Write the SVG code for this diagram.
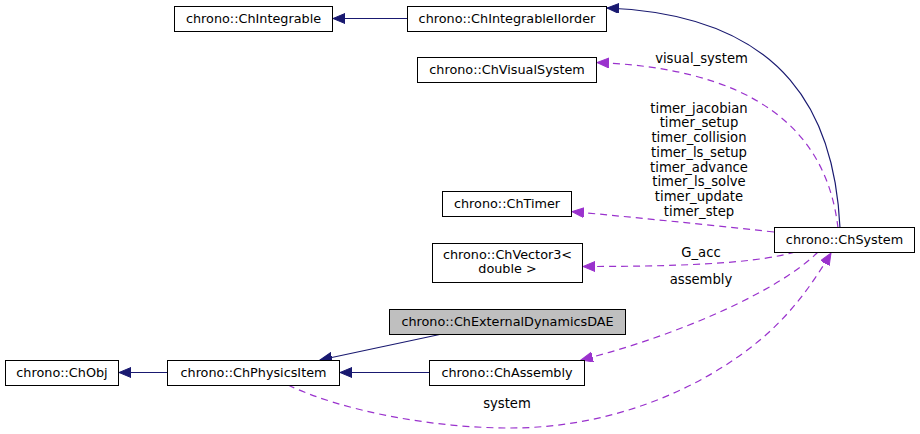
<svg xmlns="http://www.w3.org/2000/svg" width="920" height="434" viewBox="0 0 920 434">
<style>
  .box{fill:#fff;stroke:#000;stroke-width:1}
  .hl{fill:#bfbfbf;stroke:#000;stroke-width:1}
  text{font-family:"DejaVu Sans","Liberation Sans",sans-serif;font-size:12.8px;fill:#000;text-anchor:middle}
  #labels text{font-size:13.2px}
  .inh{fill:none;stroke:#191970;stroke-width:1.2}
  .use{fill:none;stroke:#9a32cd;stroke-width:1.2;stroke-dasharray:7,5}
</style>
<defs>
  <marker id="an" markerUnits="userSpaceOnUse" markerWidth="14" markerHeight="12" refX="12" refY="5" orient="auto">
    <polygon points="0,0 12,5 0,10" fill="#191970" stroke="#191970"/>
  </marker>
  <marker id="ap" markerUnits="userSpaceOnUse" markerWidth="14" markerHeight="12" refX="12" refY="5" orient="auto">
    <polygon points="0,0 12,5 0,10" fill="#9a32cd" stroke="#9a32cd"/>
  </marker>
</defs>
<g id="edges">
  <path class="inh" d="M407,18.5 L333,18.5" marker-end="url(#an)"/>
  <path class="inh" d="M840,228 C835,120 790,15 607,8" marker-end="url(#an)"/>
  <path class="use" d="M838,228 C830,160 790,70 597,62.5" marker-end="url(#ap)"/>
  <path class="use" d="M774,232 C700,224 640,218 572,211.5" marker-end="url(#ap)"/>
  <path class="use" d="M795,252 C760,262 700,266.5 583,266.5" marker-end="url(#ap)"/>
  <path class="use" d="M818,252 C780,290 680,335 581,360" marker-end="url(#ap)"/>
  <path class="use" d="M288,385 C340,410 430,428 510,428 C610,428 700,390 760,340 C790,315 812,285 831,253" marker-end="url(#ap)"/>
  <path class="inh" d="M442,334 L320,360" marker-end="url(#an)"/>
  <path class="inh" d="M429,372.5 L340,372.5" marker-end="url(#an)"/>
  <path class="inh" d="M167,372.5 L119,372.5" marker-end="url(#an)"/>
</g>
<g id="labels">
  <text x="701.5" y="63">visual_system</text>
  <text x="699" y="112.5">timer_jacobian</text>
  <text x="699" y="127.3">timer_setup</text>
  <text x="699" y="142">timer_collision</text>
  <text x="699" y="156.8">timer_ls_setup</text>
  <text x="699" y="171.6">timer_advance</text>
  <text x="699" y="186.3">timer_ls_solve</text>
  <text x="699" y="201.1">timer_update</text>
  <text x="699" y="215.9">timer_step</text>
  <text x="701" y="257">G_acc</text>
  <text x="701" y="284">assembly</text>
  <text x="507" y="407.5">system</text>
</g>
<g id="n_ChIntegrable"><rect class="box" x="174.5" y="6.5" width="158" height="25"/><text x="253.5" y="23">chrono::ChIntegrable</text></g>
<g id="n_ChIntegrableIIorder"><rect class="box" x="407.5" y="6.5" width="199" height="25"/><text x="507" y="23">chrono::ChIntegrableIIorder</text></g>
<g id="n_ChVisualSystem"><rect class="box" x="417.5" y="57.5" width="179" height="25"/><text x="507" y="74">chrono::ChVisualSystem</text></g>
<g id="n_ChTimer"><rect class="box" x="442.5" y="191.5" width="129" height="25"/><text x="507" y="208">chrono::ChTimer</text></g>
<g id="n_ChSystem"><rect class="box" x="774.5" y="227.5" width="140" height="25"/><text x="844.5" y="244">chrono::ChSystem</text></g>
<g id="n_ChVector3"><rect class="box" x="432.5" y="243.5" width="150" height="39"/><text x="507.5" y="259">chrono::ChVector3&lt;</text><text x="507.5" y="273">double &gt;</text></g>
<g id="n_ChExternalDynamicsDAE"><rect class="hl" x="389.5" y="309.5" width="236" height="25"/><text x="507.5" y="326">chrono::ChExternalDynamicsDAE</text></g>
<g id="n_ChObj"><rect class="box" x="5.5" y="360.5" width="113" height="25"/><text x="62" y="377">chrono::ChObj</text></g>
<g id="n_ChPhysicsItem"><rect class="box" x="167.5" y="360.5" width="172" height="25"/><text x="253.5" y="377">chrono::ChPhysicsItem</text></g>
<g id="n_ChAssembly"><rect class="box" x="429.5" y="360.5" width="155" height="25"/><text x="507" y="377">chrono::ChAssembly</text></g>
</svg>
